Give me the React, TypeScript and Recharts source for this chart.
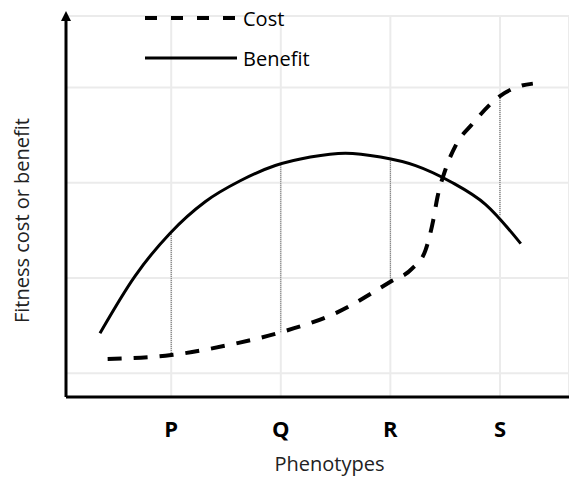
import React from 'react';
import { LineChart, Line, XAxis, YAxis, CartesianGrid, Legend, ReferenceLine } from 'recharts';

// x positions of the phenotypes on the axis
const phenotypes = ['P', 'Q', 'R', 'S'];
const phenotypeTicks = [1, 2, 3, 4];
const gridLevels = [1, 2, 3, 4];

// Benefit curve (solid), read at evenly spaced x
const benefitX = [0.35, 0.67, 0.99, 1.31, 1.63, 1.95, 2.27, 2.59, 2.91, 3.23, 3.55, 3.87, 4.19];
const benefitY = [1.42, 2.02, 2.47, 2.8, 3.02, 3.18, 3.27, 3.31, 3.27, 3.18, 3.01, 2.77, 2.36];

// Cost curve (dashed)
const costX = [0.42, 1, 1.5, 2, 2.5, 3, 3.2, 3.32, 3.39, 3.43, 3.5, 3.6, 3.75, 4, 4.2, 4.3];
const costY = [1.15, 1.19, 1.29, 1.43, 1.63, 1.96, 2.1, 2.29, 2.6, 2.85, 3.13, 3.4, 3.62, 3.91, 4.02, 4.04];

// dotted drop lines at P, Q, R, S
const benefitAtPhenotype = [2.48, 3.2, 3.26, 2.66];
const costAtPhenotype = [1.19, 1.43, 1.96, 3.91];

const benefitData = benefitX.map((x, i) => ({ x, benefit: benefitY[i] }));
const costData = costX.map((x, i) => ({ x, cost: costY[i] }));

const legendOrder = ['Cost', 'Benefit'];
const dashes: Record<string, string | undefined> = { Cost: '12 14', Benefit: undefined };

const FONT = '"Open Sans", sans-serif';

function LegendBox({ payload }: any) {
  const items = [...(payload || [])].sort(
    (a: any, b: any) => legendOrder.indexOf(a.value) - legendOrder.indexOf(b.value)
  );
  return (
    <div style={{ fontFamily: FONT, fontSize: 20, color: '#000' }}>
      {items.map((entry: any) => (
        <div key={entry.value} style={{ display: 'flex', alignItems: 'center', height: 40 }}>
          <svg width={92} height={6}>
            <line
              x1={0}
              y1={3}
              x2={92}
              y2={3}
              stroke="#000"
              strokeWidth={dashes[entry.value] ? 4 : 3}
              strokeDasharray={dashes[entry.value]}
            />
          </svg>
          <span style={{ marginLeft: 6 }}>{entry.value}</span>
        </div>
      ))}
    </div>
  );
}

export default function App() {
  return (
    <div style={{ fontFamily: FONT, position: 'absolute', left: 0, top: 0 }}>
      <LineChart width={569} height={482} margin={{ top: 16, right: 0, bottom: 5, left: 6 }}>
        <defs>
          <marker
            id="axisArrow"
            viewBox="0 0 10 10"
            refX={5}
            refY={5}
            markerWidth={10}
            markerHeight={10}
            markerUnits="userSpaceOnUse"
            orient="auto-start-reverse"
          >
            <path d="M0,0 L10,5 L0,10 z" fill="#000" />
          </marker>
        </defs>
        <CartesianGrid stroke="#ebebeb" strokeWidth={2} />
        <XAxis
          type="number"
          dataKey="x"
          domain={[0.04, 4.63]}
          ticks={phenotypeTicks}
          tickFormatter={(v: number) => phenotypes[phenotypeTicks.indexOf(v)] ?? ''}
          allowDataOverflow
          height={80}
          tickSize={0}
          tickMargin={24}
          tickLine={false}
          axisLine={{ stroke: '#000', strokeWidth: 3 }}
          tick={{ fill: '#000', fontSize: 22, fontWeight: 'bold', fontFamily: FONT }}
          label={{ value: 'Phenotypes', position: 'insideBottom', offset: 6, dx: 12, fill: '#222', fontSize: 20, fontFamily: FONT }}
        />
        <YAxis
          type="number"
          domain={[0.75, 4.75]}
          ticks={gridLevels}
          allowDataOverflow
          width={60}
          tickFormatter={() => ''}
          tickLine={false}
          axisLine={{ stroke: '#000', strokeWidth: 3, markerStart: 'url(#axisArrow)' }}
          label={{ value: 'Fitness cost or benefit', angle: -90, position: 'center', dx: -14, dy: 14, fill: '#222', fontSize: 20, fontFamily: FONT }}
        />
        {phenotypeTicks.map((t, i) => (
          <ReferenceLine
            key={t}
            segment={[
              { x: t, y: costAtPhenotype[i] },
              { x: t, y: benefitAtPhenotype[i] },
            ]}
            stroke="#555"
            strokeWidth={1}
            strokeDasharray="1 1"
          />
        ))}
        <Line
          data={costData}
          dataKey="cost"
          name="Cost"
          type="monotone"
          stroke="#000"
          strokeWidth={4}
          strokeDasharray="14 12"
          dot={false}
          isAnimationActive={false}
        />
        <Line
          data={benefitData}
          dataKey="benefit"
          name="Benefit"
          type="monotone"
          stroke="#000"
          strokeWidth={3}
          dot={false}
          isAnimationActive={false}
        />
        <Legend
          layout="vertical"
          align="center"
          verticalAlign="middle"
          content={<LegendBox />}
          wrapperStyle={{ position: 'absolute', left: 145, top: -2, width: 'auto', height: 'auto' }}
        />
      </LineChart>
    </div>
  );
}
